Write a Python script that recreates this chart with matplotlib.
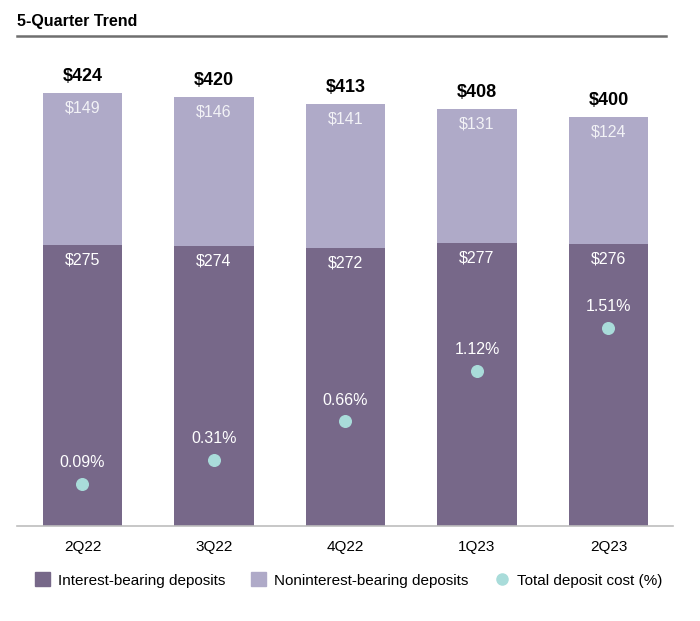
import numpy as np
import matplotlib.pyplot as plt
from matplotlib.lines import Line2D
from matplotlib.patches import Patch

plt.rcParams['font.family'] = ['Liberation Sans', 'DejaVu Sans']

quarters = ['2Q22', '3Q22', '4Q22', '1Q23', '2Q23']
interest = [275, 274, 272, 277, 276]
noninterest = [149, 146, 141, 131, 124]
totals = [424, 420, 413, 408, 400]
cost = [0.09, 0.31, 0.66, 1.12, 1.51]

dark = '#776889'
light = '#AFAAC8'
dotc = '#A9DCDA'

fig = plt.figure(figsize=(7, 6.21), dpi=100)
ax = fig.add_axes([0.0243, 0.153, 0.937, 0.773])
x = np.arange(len(quarters))
w = 0.605

ax.bar(x, interest, w, color=dark, zorder=2)
ax.bar(x, noninterest, w, bottom=interest, color=light, zorder=2)

for i in range(len(x)):
    ax.text(x[i], interest[i] - 7, '$' + str(interest[i]), ha='center', va='top',
            color='white', fontsize=11.5)
    ax.text(x[i], totals[i] - 7, '$' + str(noninterest[i]), ha='center', va='top',
            color='#F2F2F6', fontsize=11.5)
    ax.text(x[i], totals[i] + 8, '$' + str(totals[i]), ha='center', va='bottom',
            color='black', fontsize=13, fontweight='bold')

ax.set_xlim(-0.498, 4.49)
ax.set_ylim(0, 470)
ax.set_xticks(x)
ax.set_xticklabels(quarters, fontsize=11)
ax.tick_params(axis='x', length=0, pad=10)
ax.set_yticks([])
for s in ['top', 'right', 'left']:
    ax.spines[s].set_visible(False)
ax.spines['bottom'].set_color('#BDBDBD')
ax.spines['bottom'].set_linewidth(1.2)

ax2 = ax.twinx()
ax2.set_ylim(-0.29, 4.07)
ax2.scatter(x, cost, s=70, color=dotc, zorder=3)
for i in range(len(x)):
    ax2.annotate('{:.2f}%'.format(cost[i]), (x[i], cost[i]), xytext=(0, 10),
                 textcoords='offset points', ha='center', va='bottom',
                 color='white', fontsize=11.5)
ax2.set_yticks([])
for s in ['top', 'right', 'left', 'bottom']:
    ax2.spines[s].set_visible(False)

fig.text(0.0243, 0.966, '5-Quarter Trend', fontsize=11.5, fontweight='bold',
         ha='left', va='center')
fig.add_artist(Line2D([0.0243, 0.952], [0.942, 0.942], color='#6F6F6F', lw=1.8))

handles = [Patch(color=dark), Patch(color=light),
           Line2D([], [], marker='o', ls='', color=dotc, markersize=8)]
labels = ['Interest-bearing deposits', 'Noninterest-bearing deposits', 'Total deposit cost (%)']
fig.legend(handles, labels, loc='center', bbox_to_anchor=(0.498, 0.066), ncol=3,
           frameon=False, fontsize=11, handlelength=1.0, handleheight=1.0,
           handletextpad=0.5, columnspacing=1.7)

fig.savefig('out.png', dpi=100)
